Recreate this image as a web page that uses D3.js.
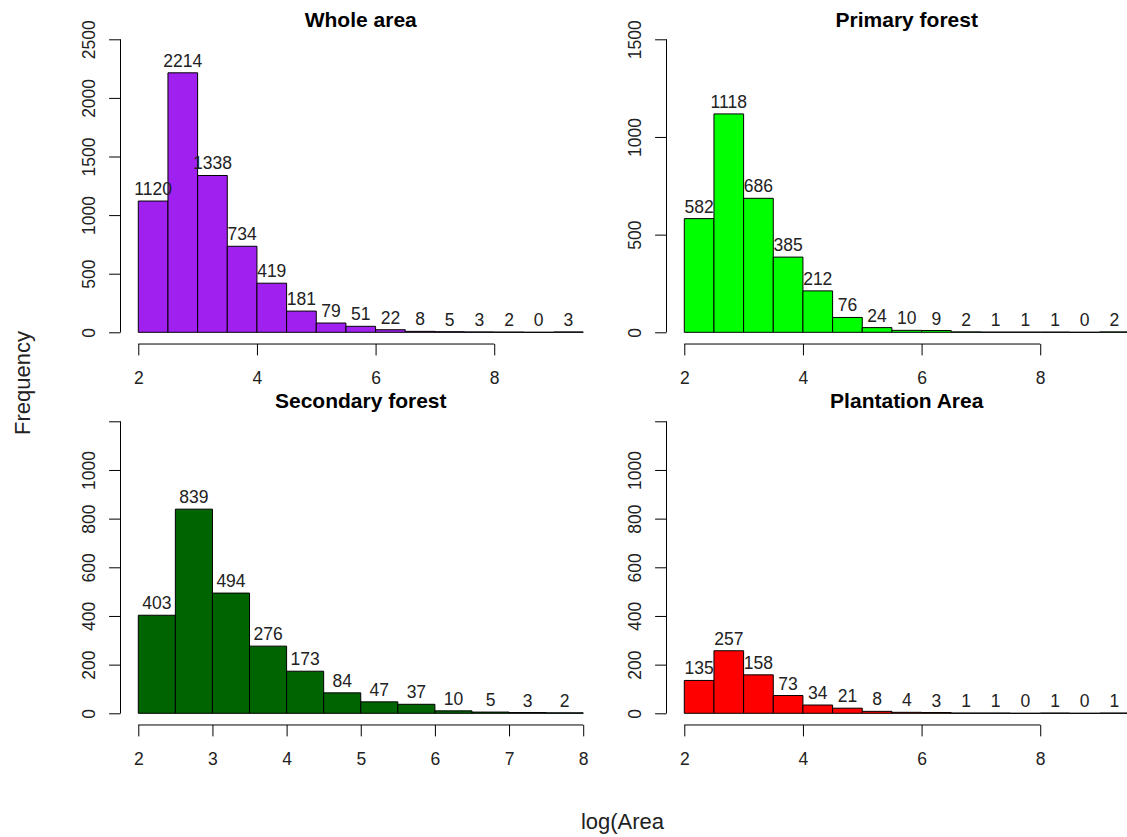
<!DOCTYPE html>
<html>
<head>
<meta charset="utf-8">
<script src="https://cdn.jsdelivr.net/npm/d3@7"></script>
<style>
  html, body { margin: 0; padding: 0; background: #fff; }
  svg { display: block; }
  text { font-family: "Liberation Sans", Arial, sans-serif; }
</style>
</head>
<body>
<script>
// ---------------- data ----------------
const titles = ["Whole area", "Primary forest", "Secondary forest", "Plantation Area"];
const colors = ["#A020F0", "#00FF00", "#006400", "#FF0000"];

const breaksLong = [2, 2.5, 3, 3.5, 4, 4.5, 5, 5.5, 6, 6.5, 7, 7.5, 8, 8.5, 9, 9.5];
const breaksShort = [2, 2.5, 3, 3.5, 4, 4.5, 5, 5.5, 6, 6.5, 7, 7.5, 8];

const wholeCounts = [1120, 2214, 1338, 734, 419, 181, 79, 51, 22, 8, 5, 3, 2, 0, 3];
const primaryCounts = [582, 1118, 686, 385, 212, 76, 24, 10, 9, 2, 1, 1, 1, 0, 2];
const secondaryCounts = [403, 839, 494, 276, 173, 84, 47, 37, 10, 5, 3, 2];
const plantationCounts = [135, 257, 158, 73, 34, 21, 8, 4, 3, 1, 1, 0, 1, 0, 1];

const xTicksLong = [2, 4, 6, 8];
const xTicksShort = [2, 3, 4, 5, 6, 7, 8];

const yTicksWhole = [0, 500, 1000, 1500, 2000, 2500];
const yLabelsWhole = ["0", "500", "1000", "1500", "2000", "2500"];
const yTicksPrimary = [0, 500, 1000, 1500];
const yLabelsPrimary = ["0", "500", "1000", "1500"];
const yTicksLower = [0, 200, 400, 600, 800, 1000, 1200];
const yLabelsLower = ["0", "200", "400", "600", "800", "1000", ""];

const xAxisTitle = "log(Area";
const yAxisTitle = "Frequency";

// ---------------- layout ----------------
const W = 1127, H = 837;
const svg = d3.select("body").append("svg").attr("width", W).attr("height", H);

const colL = [120.5, 601], colR = [666.5, 1147];
const rowTop = { base: 332.3, top: 39.3, titleY: 26.5 };
const rowBot = { base: 713.3, top: 421.3, titleY: 408 };

const panels = [
  { title: titles[0], color: colors[0], counts: wholeCounts, breaks: breaksLong, xdom: [1.7, 9.8], xr: colL, row: rowTop, xt: xTicksLong, yt: yTicksWhole, yl: yLabelsWhole, ylabOff: 25.7 },
  { title: titles[1], color: colors[1], counts: primaryCounts, breaks: breaksLong, xdom: [1.7, 9.8], xr: colR, row: rowTop, xt: xTicksLong, yt: yTicksPrimary, yl: yLabelsPrimary, ylabOff: 25.5 },
  { title: titles[2], color: colors[2], counts: secondaryCounts, breaks: breaksShort, xdom: [1.76, 8.24], xr: colL, row: rowBot, xt: xTicksShort, yt: yTicksLower, yl: yLabelsLower, ylabOff: 25.7 },
  { title: titles[3], color: colors[3], counts: plantationCounts, breaks: breaksLong, xdom: [1.7, 9.8], xr: colR, row: rowBot, xt: xTicksLong, yt: yTicksLower, yl: yLabelsLower, ylabOff: 25.5 }
];

const tickLen = 11.4;
const fs = 17.5;

panels.forEach(p => {
  const yMax = p.yt[p.yt.length - 1];
  const x = d3.scaleLinear().domain(p.xdom).range(p.xr);
  const y = d3.scaleLinear().domain([0, yMax]).range([p.row.base, p.row.top]);
  const axisY = y(-0.04 * yMax);
  const g = svg.append("g");

  const bins = p.counts.map((c, i) => ({ x0: p.breaks[i], x1: p.breaks[i + 1], c }));

  // bars (as closed paths so zero-height bins still draw their outline)
  g.selectAll("path.bar").data(bins).enter().append("path")
    .attr("class", "bar")
    .attr("d", d => {
      const pth = d3.path();
      pth.moveTo(x(d.x0), y(0));
      pth.lineTo(x(d.x0), y(d.c));
      pth.lineTo(x(d.x1), y(d.c));
      pth.lineTo(x(d.x1), y(0));
      pth.closePath();
      return pth.toString();
    })
    .attr("fill", p.color)
    .attr("stroke", "#000")
    .attr("stroke-width", 1);

  // count labels
  g.selectAll("text.cnt").data(bins).enter().append("text")
    .attr("class", "cnt")
    .attr("x", d => x((d.x0 + d.x1) / 2))
    .attr("y", d => y(d.c) - 6)
    .attr("text-anchor", "middle")
    .attr("font-size", fs)
    .attr("fill", "#222")
    .text(d => d.c);

  // x axis
  const xa = d3.axisBottom(x).tickValues(p.xt).tickSize(tickLen).tickPadding(0).tickFormat(d3.format("d"));
  const gx = svg.append("g").attr("transform", `translate(0,${axisY})`).call(xa);
  gx.select(".domain").attr("d", `M${x(p.xt[0])},0H${x(p.xt[p.xt.length - 1])}`).attr("stroke", "#000");
  gx.selectAll(".tick line").attr("stroke", "#000");
  gx.selectAll(".tick text")
    .attr("y", 40).attr("dy", null)
    .attr("font-size", fs).attr("font-family", "Liberation Sans, Arial, sans-serif")
    .attr("fill", "#222");

  // y axis
  const ya = d3.axisLeft(y).tickValues(p.yt).tickSize(tickLen).tickFormat((d, i) => p.yl[i]);
  const gy = svg.append("g").attr("transform", `translate(${p.xr[0]},0)`).call(ya);
  gy.select(".domain").attr("d", `M0,${y(0)}V${y(yMax)}`).attr("stroke", "#000");
  gy.selectAll(".tick line").attr("stroke", "#000");
  gy.selectAll(".tick text")
    .attr("x", null).attr("dy", null)
    .attr("transform", `translate(${-p.ylabOff},0) rotate(-90)`)
    .attr("text-anchor", "middle")
    .attr("font-size", fs).attr("font-family", "Liberation Sans, Arial, sans-serif")
    .attr("fill", "#222");

  // title
  svg.append("text")
    .attr("x", (p.xr[0] + p.xr[1]) / 2)
    .attr("y", p.row.titleY)
    .attr("text-anchor", "middle")
    .attr("font-size", 21)
    .attr("font-weight", "bold")
    .attr("fill", "#000")
    .text(p.title);
});

// outer axis titles
svg.append("text")
  .attr("transform", "translate(29.5,383) rotate(-90)")
  .attr("text-anchor", "middle")
  .attr("font-size", 22)
  .attr("fill", "#222")
  .text(yAxisTitle);

svg.append("text")
  .attr("x", 622.5)
  .attr("y", 829)
  .attr("text-anchor", "middle")
  .attr("font-size", 22)
  .attr("fill", "#222")
  .text(xAxisTitle);
</script>
</body>
</html>
